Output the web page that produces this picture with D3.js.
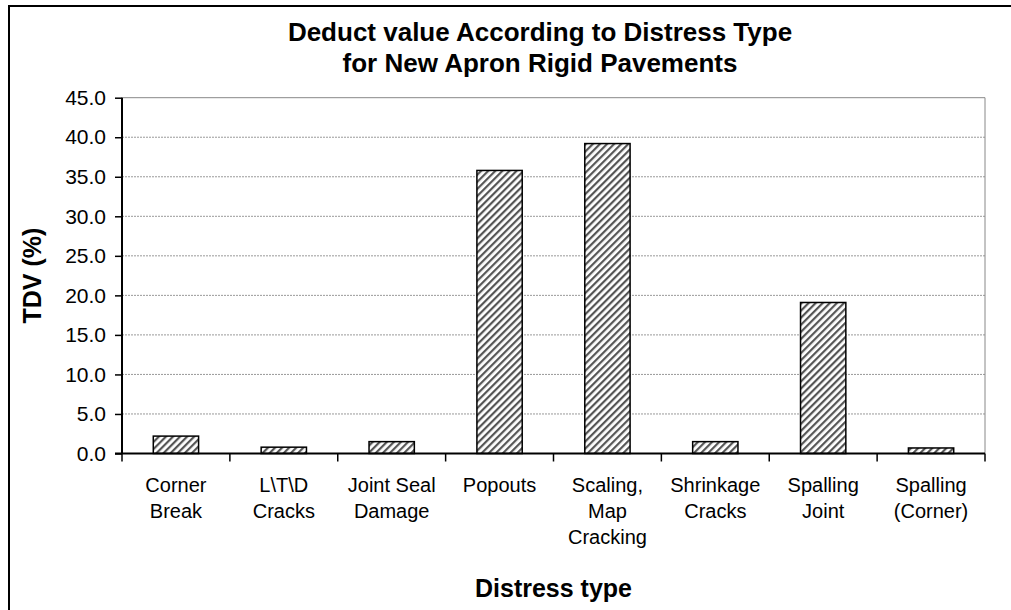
<!DOCTYPE html>
<html><head><meta charset="utf-8">
<script src="https://cdn.jsdelivr.net/npm/d3@7"></script>
<style>body{margin:0;background:#fff}svg{display:block}text{font-family:"Liberation Sans",Arial,sans-serif}</style>
</head><body>
<script>
const categories = [["Corner","Break"],["L\\T\\D","Cracks"],["Joint Seal","Damage"],["Popouts"],["Scaling,","Map","Cracking"],["Shrinkage","Cracks"],["Spalling","Joint"],["Spalling","(Corner)"]];
const values = [2.2, 0.8, 1.5, 35.8, 39.2, 1.5, 19.1, 0.7];
const yTicks = [0,5,10,15,20,25,30,35,40,45];
const titleLines = ["Deduct value According to Distress Type","for New Apron Rigid Pavements"];
const xTitle = "Distress type", yTitle = "TDV (%)";

const W=1011,H=610;
const svg=d3.select("body").append("svg").attr("width",W).attr("height",H);
const defs=svg.append("defs");
const pat=defs.append("pattern").attr("id","hatch").attr("patternUnits","userSpaceOnUse")
 .attr("width",5).attr("height",5).attr("patternTransform","rotate(45)");
pat.append("rect").attr("width",5).attr("height",5).attr("fill","#fff");
pat.append("rect").attr("x",0).attr("width",2.2).attr("height",5).attr("fill","#555");

svg.append("rect").attr("x",9).attr("y",6).attr("width",W).attr("height",H).attr("fill","none").attr("stroke","#000").attr("stroke-width",2);

const L=122,R=985,T=97.7,B=453.5;
const x=d3.scaleBand().domain(d3.range(categories.length)).range([L,R]).paddingInner(0.58).paddingOuter(0.29);
const xb=d3.scaleBand().domain(d3.range(categories.length)).range([L,R]);
const y=d3.scaleLinear().domain([0,45]).range([B,T]);

const g=svg.append("g");
g.selectAll("line.grid").data(yTicks.filter(d=>d>0)).enter().append("line")
 .attr("x1",L).attr("x2",R).attr("y1",d=>y(d)).attr("y2",d=>y(d))
 .attr("stroke",d=>d===45?"#888":"#999").attr("stroke-width",1)
 .attr("stroke-dasharray",d=>d===45?null:"2,1");
g.append("line").attr("x1",R).attr("x2",R).attr("y1",T).attr("y2",B).attr("stroke","#888");

g.selectAll("rect.bar").data(values).enter().append("rect")
 .attr("x",(d,i)=>x(i)).attr("width",x.bandwidth())
 .attr("y",d=>y(d)).attr("height",d=>B-y(d))
 .attr("fill","url(#hatch)").attr("stroke","#000").attr("stroke-width",1.5);

const ya=d3.axisLeft(y).tickValues(yTicks).tickFormat(d3.format(".1f")).tickSize(7).tickPadding(9);
const yg=svg.append("g").attr("transform",`translate(${L},0)`).call(ya);
yg.select(".domain").attr("d",`M0,${T}V${B}`).attr("stroke","#000").attr("stroke-width",2);
yg.selectAll(".tick line").attr("stroke","#000").attr("stroke-width",1.5);
yg.selectAll("text").attr("font-size",21).attr("fill","#000").attr("font-family","Liberation Sans, Arial");

const xa=svg.append("g");
xa.append("line").attr("x1",L-7).attr("x2",R).attr("y1",B).attr("y2",B).attr("stroke","#000").attr("stroke-width",2);
xa.selectAll("line.tk").data(d3.range(categories.length+1)).enter().append("line")
 .attr("x1",i=>L+i*xb.step()).attr("x2",i=>L+i*xb.step()).attr("y1",B).attr("y2",B+8)
 .attr("stroke","#000").attr("stroke-width",1.5);
categories.forEach((lines,i)=>{
 const t=svg.append("text").attr("text-anchor","middle").attr("font-size",20).attr("fill","#000");
 lines.forEach((s,j)=>t.append("tspan").attr("x",xb(i)+xb.bandwidth()/2).attr("y",492+j*26).text(s));
});

const tt=svg.append("text").attr("text-anchor","middle").attr("font-size",26).attr("font-weight","bold");
titleLines.forEach((s,j)=>tt.append("tspan").attr("x",540).attr("y",41+j*31).text(s));
svg.append("text").attr("x",(L+R)/2).attr("y",597).attr("text-anchor","middle").attr("font-size",25).attr("font-weight","bold").text(xTitle);
svg.append("text").attr("transform",`translate(41,${(T+B)/2}) rotate(-90)`).attr("text-anchor","middle").attr("font-size",25).attr("font-weight","bold").text(yTitle);
</script>
</body></html>
